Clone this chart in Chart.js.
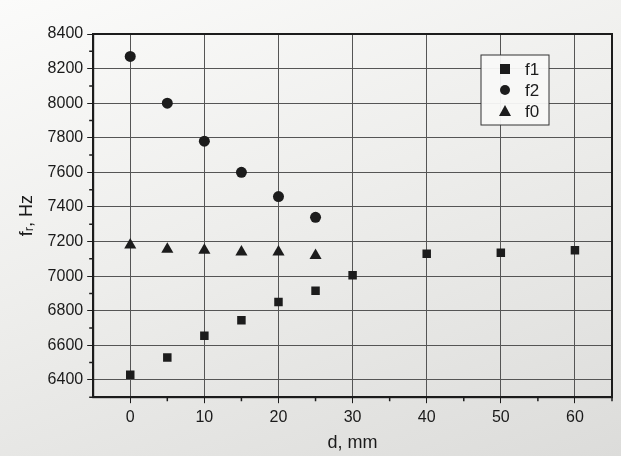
<!DOCTYPE html>
<html>
<head>
<meta charset="utf-8">
<script src="https://cdn.jsdelivr.net/npm/chart.js@4"></script>
<style>
  html, body { margin:0; padding:0; }
  body { width:621px; height:456px; background: linear-gradient(160deg, #fbfbfa 0%, #eeeeec 45%, #dcdcda 100%); }
  #wrap { position:relative; width:621px; height:456px; }
</style>
</head>
<body>
<div id="wrap"><canvas id="chart" width="621" height="456"></canvas></div>
<script>
const dF1 = [0, 5, 10, 15, 20, 25, 30, 40, 50, 60];
const f1 = [6430, 6530, 6655, 6745, 6850, 6915, 7005, 7130, 7135, 7150];
const dF2 = [0, 5, 10, 15, 20, 25];
const f2 = [8270, 8000, 7780, 7600, 7460, 7340];
const dF0 = [0, 5, 10, 15, 20, 25];
const f0 = [7180, 7155, 7150, 7140, 7140, 7120];

const xTicks = [0, 10, 20, 30, 40, 50, 60];
const yTicks = [6400, 6600, 6800, 7000, 7200, 7400, 7600, 7800, 8000, 8200, 8400];

const INK = '#1c1c1c';
const FONT = "'Liberation Sans', Arial, sans-serif";

const toPts = (xs, ys) => xs.map((x, i) => ({ x: x, y: ys[i] }));

// frame, minor ticks and the legend box inside the plot
const framePlugin = {
  id: 'frame',
  afterDraw(chart){
    const { ctx, chartArea: a, scales } = chart;
    ctx.save();
    ctx.strokeStyle = INK;
    ctx.lineWidth = 2;
    ctx.strokeRect(a.left, a.top, a.right - a.left, a.bottom - a.top);

    // minor ticks
    ctx.lineWidth = 1.5;
    ctx.beginPath();
    for(let v = 5; v <= 65; v += 10){
      const px = scales.x.getPixelForValue(v);
      ctx.moveTo(px, a.bottom); ctx.lineTo(px, a.bottom + 4);
    }
    for(let v = 6300; v <= 8400; v += 200){
      const py = scales.y.getPixelForValue(v);
      ctx.moveTo(a.left, py); ctx.lineTo(a.left - 4, py);
    }
    ctx.stroke();

    // legend
    const lx = a.right - 131, ly = a.top + 21, lw = 68, lh = 70;
    ctx.fillStyle = 'rgba(248,248,247,0.95)';
    ctx.fillRect(lx, ly, lw, lh);
    ctx.strokeStyle = '#333';
    ctx.lineWidth = 1;
    ctx.strokeRect(lx, ly, lw, lh);
    ctx.font = '17px ' + FONT;
    ctx.textBaseline = 'middle';
    chart.data.datasets.forEach((ds, i) => {
      const cy = ly + 14 + i * 21;
      const cx = lx + 24;
      ctx.fillStyle = INK;
      ctx.beginPath();
      if(ds.pointStyle === 'rect'){
        ctx.rect(cx - 5, cy - 5, 10, 10);
      } else if(ds.pointStyle === 'circle'){
        ctx.arc(cx, cy, 5, 0, Math.PI * 2);
      } else {
        ctx.moveTo(cx, cy - 6); ctx.lineTo(cx + 6, cy + 5); ctx.lineTo(cx - 6, cy + 5); ctx.closePath();
      }
      ctx.fill();
      ctx.fillText(ds.label, lx + 44, cy + 1);
    });
    ctx.restore();
  }
};

new Chart(document.getElementById('chart').getContext('2d'), {
  type: 'scatter',
  data: {
    datasets: [
      { label: 'f1', data: toPts(dF1, f1), pointStyle: 'rect', pointRadius: 6, backgroundColor: INK, borderColor: INK, borderWidth: 0 },
      { label: 'f2', data: toPts(dF2, f2), pointStyle: 'circle', pointRadius: 5.5, backgroundColor: INK, borderColor: INK, borderWidth: 0 },
      { label: 'f0', data: toPts(dF0, f0), pointStyle: 'triangle', pointRadius: 7, backgroundColor: INK, borderColor: INK, borderWidth: 0 }
    ]
  },
  options: {
    responsive: false,
    animation: false,
    layout: { padding: { left: 12, right: 9, top: 34, bottom: 2 } },
    plugins: { legend: { display: false }, tooltip: { enabled: false } },
    scales: {
      x: {
        type: 'linear', min: -5, max: 65,
        afterBuildTicks: s => { s.ticks = xTicks.map(v => ({ value: v })); },
        grid: { color: '#555', lineWidth: 1, tickLength: 6, tickColor: INK },
        border: { color: INK, width: 2 },
        ticks: { color: '#1a1a1a', font: { family: FONT, size: 16 }, padding: 5, callback: v => String(v) },
        title: { display: true, text: 'd, mm', color: '#1a1a1a', font: { family: FONT, size: 18 }, padding: { top: 0, bottom: 0 } }
      },
      y: {
        type: 'linear', min: 6300, max: 8400,
        afterBuildTicks: s => { s.ticks = yTicks.map(v => ({ value: v })); },
        grid: { color: '#555', lineWidth: 1, tickLength: 6, tickColor: INK },
        border: { color: INK, width: 2 },
        ticks: { color: '#1a1a1a', font: { family: FONT, size: 16 }, padding: 4, callback: v => String(v) },
        title: { display: true, text: 'fᵣ, Hz', color: '#1a1a1a', font: { family: FONT, size: 18 }, padding: { bottom: 6 } }
      }
    }
  },
  plugins: [framePlugin]
});
</script>
</body>
</html>
